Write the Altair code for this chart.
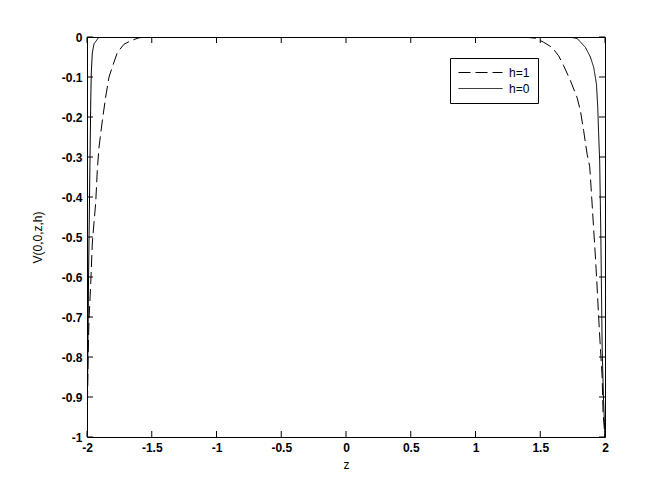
import altair as alt
import pandas as pd

# h=1 (dashed)
h1_z = [-2.0, -1.992, -1.985, -1.971, -1.959, -1.933, -1.920, -1.907, -1.882, -1.856,
        -1.830, -1.797, -1.766, -1.714, -1.653, -1.598, -1.537,
        1.369, 1.462, 1.526, 1.591, 1.642, 1.681, 1.733, 1.784, 1.810, 1.835, 1.862,
        1.882, 1.900, 1.913, 1.926, 1.939, 1.951, 1.964, 1.978, 1.985, 1.995, 2.0]
h1_v = [-1.0, -0.81, -0.71, -0.615, -0.515, -0.415, -0.33, -0.275, -0.21, -0.15,
        -0.10, -0.068, -0.039, -0.018, -0.008, -0.002, 0.0,
        0.0, -0.003, -0.013, -0.026, -0.047, -0.072, -0.109, -0.151, -0.184, -0.234, -0.293,
        -0.324, -0.415, -0.483, -0.55, -0.625, -0.70, -0.775, -0.85, -0.94, -0.98, -1.0]

# h=0 (solid)
h0_z = [-2.0, -1.995, -1.988, -1.977, -1.971, -1.967, -1.959, -1.946, -1.907,
        1.700, 1.760, 1.787, 1.797, 1.849, 1.887, 1.913, 1.934, 1.944, 1.951, 1.959,
        1.968, 1.978, 1.988, 2.0]
h0_v = [-1.0, -0.85, -0.6, -0.31, -0.16, -0.09, -0.04, -0.017, 0.0,
        0.0, -0.002, -0.004, -0.008, -0.026, -0.05, -0.076, -0.118, -0.176, -0.243, -0.31,
        -0.5, -0.775, -0.9, -1.0]

series = ["h=1", "h=0"]
x_ticks = [-2, -1.5, -1, -0.5, 0, 0.5, 1, 1.5, 2]
y_ticks = [-1, -0.9, -0.8, -0.7, -0.6, -0.5, -0.4, -0.3, -0.2, -0.1, 0]

df = pd.concat([
    pd.DataFrame({"z": h1_z, "v": h1_v, "s": series[0]}),
    pd.DataFrame({"z": h0_z, "v": h0_v, "s": series[1]}),
])
xt = pd.DataFrame({"t": x_ticks})
yt = pd.DataFrame({"t": y_ticks})

W, H = 518, 400
FONT = "Liberation Sans"

xscale = alt.Scale(domain=[-2, 2], nice=False, zero=False)
yscale = alt.Scale(domain=[-1, 0], nice=False, zero=False)

xaxis = alt.Axis(values=x_ticks, labelExpr="'' + datum.value", ticks=False,
                 domain=False, grid=False, labelPadding=5, labelFont=FONT,
                 labelFontSize=12, labelFontWeight="bold", labelColor="black",
                 labelFlush=False, labelOverlap=False, titleFont=FONT, titleFontSize=12,
                 titleFontWeight="normal", titleColor="black", titlePadding=6)
yaxis = alt.Axis(values=y_ticks, labelExpr="'' + datum.value", ticks=False,
                 domain=False, grid=False, labelPadding=5, labelFont=FONT,
                 labelFontSize=12, labelFontWeight="bold", labelColor="black",
                 labelFlush=False, labelOverlap=False, titleFont=FONT, titleFontSize=12,
                 titleFontWeight="normal", titleColor="black", titlePadding=17)

lines = alt.Chart(df).mark_line(color="black", strokeWidth=1, clip=True).encode(
    x=alt.X("z:Q", scale=xscale, title="z", axis=xaxis),
    y=alt.Y("v:Q", scale=yscale, title="V(0,0,z,h)", axis=yaxis),
    strokeDash=alt.StrokeDash("s:N", scale=alt.Scale(domain=series, range=[[12, 5], [1, 0]]),
                              sort=series,
                              legend=alt.Legend(title=None, orient="none", legendX=363, legendY=21,
                                                fillColor="white", strokeColor="black",
                                                padding=8, symbolType="stroke", symbolSize=1936,
                                                symbolStrokeWidth=1, symbolStrokeColor="black",
                                                labelFont=FONT, labelFontSize=12, labelColor="black",
                                                labelOffset=6, rowPadding=3, clipHeight=13)),
)

tick_len = 6
bottom_ticks = alt.Chart(xt).mark_rule(color="black", strokeWidth=1).encode(
    x=alt.X("t:Q", scale=xscale, title="z", axis=xaxis), y=alt.value(H), y2=alt.value(H - tick_len))
top_ticks = alt.Chart(xt).mark_rule(color="black", strokeWidth=1).encode(
    x=alt.X("t:Q", scale=xscale, title="z", axis=xaxis), y=alt.value(0), y2=alt.value(tick_len))
left_ticks = alt.Chart(yt).mark_rule(color="black", strokeWidth=1).encode(
    y=alt.Y("t:Q", scale=yscale, title="V(0,0,z,h)", axis=yaxis), x=alt.value(0), x2=alt.value(tick_len))
right_ticks = alt.Chart(yt).mark_rule(color="black", strokeWidth=1).encode(
    y=alt.Y("t:Q", scale=yscale, title="V(0,0,z,h)", axis=yaxis), x=alt.value(W), x2=alt.value(W - tick_len))

chart = alt.layer(lines, bottom_ticks, top_ticks, left_ticks, right_ticks).properties(
    width=W, height=H,
    autosize=alt.AutoSizeParams(type="none"),
    padding={"left": 79, "top": 29, "right": 55, "bottom": 48},
    background="white",
).configure_view(stroke="black", strokeWidth=1)

chart.save("out.html", embed_options={"renderer": "svg", "actions": False})
